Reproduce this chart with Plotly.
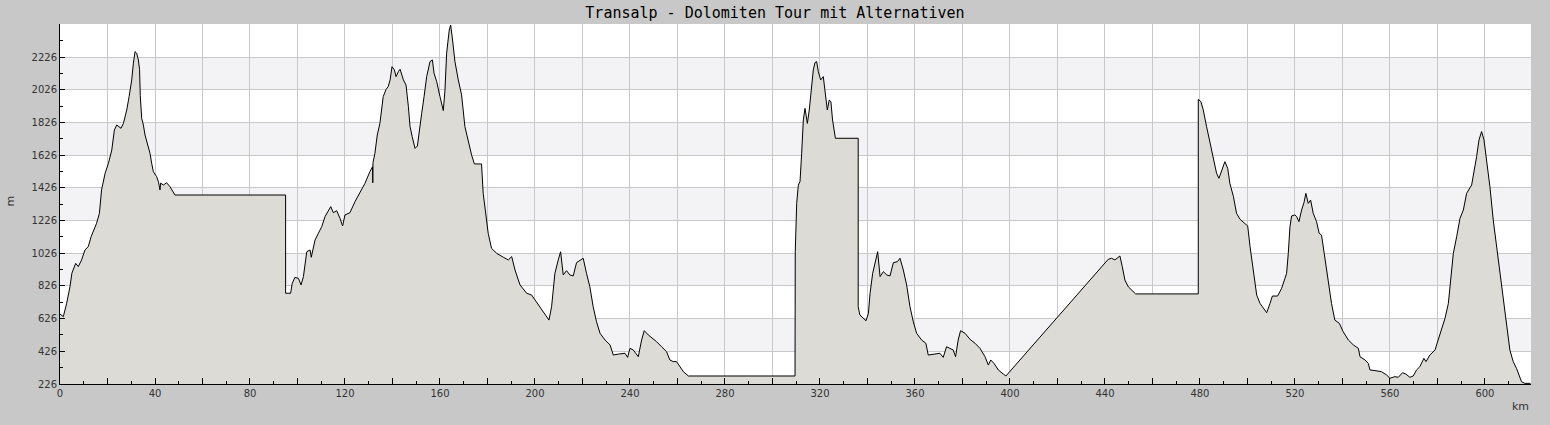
import plotly.graph_objects as go

# elevation profile
km = [0, 1.4, 2.8, 4.2, 5, 5.6, 6.6, 7.7, 9.1, 10.5, 11.9, 13.1, 14.5, 15.4, 16.6, 17.5, 19, 20.4,
      21.8, 22.9, 23.9, 24.6, 25.7, 26.7, 27.4, 28.1, 29.1, 30.2, 30.9, 31.6, 32.3, 33, 33.5, 33.8,
      34.4, 35.1, 35.8, 36.9, 37.9, 38.6, 39.3, 40.7, 41.5, 42.1, 42.4, 43.5, 44.9, 46.3, 48.4,
      95.0, 95.0, 97.1, 97.8, 98.9, 100.4, 101.5, 102.5, 103.9, 105.3, 105.8, 107.4, 108.8, 110.2,
      111.6, 113, 114, 115.1, 116.5, 117.9, 119, 120, 122.1, 124.2, 126.3, 128.4, 130.5, 131.6,
      131.7, 131.8, 132.6, 133.6, 134.7, 136.1, 137.3, 138.2, 139, 139.8, 140.8, 141.5, 142.5,
      143.2, 144.6, 145.7, 146.7, 147.4, 148.3, 149.5, 150.5, 151.3, 152.3, 153.3, 154.4, 155.8,
      156.8, 157.5, 158.6, 160, 161.4, 162.1, 162.8, 163.9, 164.5, 165.3, 166.3, 167.7, 169.1,
      170.5, 171.9, 173.3, 174.5, 177.5, 178.2, 179.4, 180.3, 181.7, 183.9, 186.7, 188.8, 190.2,
      191.6, 193.7, 196.5, 198.6, 200, 202.1, 204.2, 205.9, 207, 208.4, 209.8, 210.8, 211.9, 213.3,
      214.7, 216.1, 217.5, 218.9, 220.3, 221.7, 223.1, 224.5, 225.9, 227.4, 229.5, 231.6, 233,
      235.1, 237.9, 239, 240, 241.4, 242.4, 243.5, 244.9, 246, 247.7, 249.1, 251.2, 253.3, 255.4,
      256.8, 258.2, 259.6, 261, 262.5, 264.6, 309.5, 309.6, 310.2, 310.9, 311.6, 312.3, 313, 313.7,
      314.7, 315.5, 316.5, 317.2, 317.9, 318.6, 319.3, 320.3, 321.4, 322.1, 323.1, 323.9, 324.6,
      325.3, 326.3, 326.5, 336.1, 336.1, 336.8, 338.2, 339.4, 340.4, 341.1, 342.2, 343.2, 344.3,
      345.3, 346.7, 348.1, 349.5, 350.9, 352.6, 353.7, 355.1, 356.5, 357.9, 359.3, 360.7, 362.8,
      364.6, 365.6, 367.7, 370.5, 371.9, 373.3, 374.7, 376.1, 377.1, 378.2, 379.2, 381.1, 383.2,
      385.3, 387.4, 389.5, 390.9, 391.9, 393.3, 395.1, 397.2, 398.3, 441.4, 442.8, 444.2, 445.3,
      446.3, 447.3, 448.4, 449.8, 451.2, 452.9, 479.3, 479.3, 480.4, 481.4, 482.8, 484.2, 485.6,
      487, 488, 489.1, 490.5, 491.7, 492.6, 494.1, 495.4, 496.9, 498.7, 500.1, 501.1, 502.5, 503.9,
      505.3, 507.1, 508.1, 509.5, 510.5, 512.7, 514.4, 515.8, 516.5, 517.2, 517.9, 518.6, 520,
      520.7, 521.7, 522.8, 523.8, 524.6, 525.6, 526.6, 527.7, 529.1, 530.2, 531.2, 532.6, 534,
      535.4, 536.8, 538.7, 540.3, 542.5, 544.6, 546.7, 547.4, 549.5, 550.9, 551.6, 553.7, 556.5,
      558.6, 560, 562.1, 563.5, 565.3, 566.7, 568.4, 569.8, 571.2, 572.6, 574.3, 575.2, 576.8, 579,
      580.3, 581.7, 583.2, 584.6, 585.5, 586.7, 588.1, 589.5, 590.9, 592.3, 594.4, 595.4, 596.5,
      597.5, 598.6, 599.6, 600.7, 602.1, 603.5, 604.9, 606.3, 607.4, 608.8, 610.5, 611.9, 613.3,
      614.5, 615.4, 616.8, 619.2]

elev_m = [654, 638, 719, 821, 903, 923, 964, 944, 985, 1046, 1066, 1127, 1178, 1209, 1270, 1413, 1515, 1576,
          1657, 1780, 1810, 1800, 1790, 1820, 1861, 1902, 1984, 2086, 2188, 2259, 2249, 2208, 2150, 1990,
          1851, 1810, 1749, 1688, 1637, 1576, 1525, 1494, 1460, 1413, 1455, 1443, 1457, 1433, 1382,
          1382, 781, 781, 842, 878, 872, 832, 883, 1035, 1046, 1001, 1107, 1148, 1188,
          1250, 1290, 1311, 1274, 1286, 1239, 1193, 1260, 1274, 1341, 1402, 1453, 1525, 1555,
          1457, 1580, 1637, 1749, 1820, 1984, 2028, 2045, 2086, 2167, 2147, 2106, 2137,
          2151, 2086, 2055, 1923, 1800, 1739, 1667, 1682, 1780, 1882, 1984, 2106, 2198,
          2208, 2127, 2076, 1984, 1898, 2024, 2249, 2391, 2422, 2330, 2198, 2086, 1994,
          1800, 1708, 1627, 1572, 1572, 1392, 1229, 1148, 1056, 1025, 1001, 985, 1005,
          923, 832, 781, 770, 740, 699, 648, 617, 699, 903, 985, 1035, 893, 919,
          893, 887, 968, 980, 995, 903, 821, 699, 607, 536, 495, 465, 403,
          409, 414, 389, 444, 434, 414, 393, 495, 552, 526, 511, 485, 454, 424,
          373, 363, 363, 332, 301, 275, 275, 1035, 1331, 1443, 1464, 1637, 1841, 1912,
          1820, 1902, 2045, 2147, 2192, 2198, 2137, 2086, 2106, 2035, 1902, 1963, 1953,
          1841, 1739, 1729, 1729, 699, 648, 628, 613, 658, 781, 903, 964, 1035,
          883, 913, 893, 887, 968, 974, 995, 923, 832, 699, 607, 536, 495,
          475, 403, 409, 414, 389, 454, 444, 434, 393, 495, 552, 536, 499,
          475, 444, 393, 342, 373, 352, 312, 287, 275, 989, 995, 985, 995,
          1009, 944, 862, 821, 801, 777, 777, 1967, 1953, 1902, 1800, 1698, 1606,
          1515, 1484, 1525, 1586, 1545, 1453, 1372, 1270, 1233, 1209, 1193, 1066, 903, 770,
          719, 679, 662, 719, 764, 764, 811, 872, 903, 1025, 1188, 1254, 1260,
          1250, 1219, 1290, 1335, 1392, 1331, 1351, 1270, 1219, 1148, 1137, 1005, 862,
          719, 617, 597, 546, 495, 465, 444, 393, 373, 352, 312, 308, 301,
          281, 261, 271, 267, 295, 287, 267, 275, 312, 332, 383, 363, 403, 434,
          495, 566, 628, 719, 842, 1025, 1127, 1239, 1290, 1392, 1443, 1515, 1617,
          1719, 1770, 1719, 1596, 1433, 1229, 1066, 903, 760, 597, 434, 363, 322,
          275, 240, 230, 230]

y_ticks = [226, 426, 626, 826, 1026, 1226, 1426, 1626, 1826, 2026, 2226]
x_grid = list(range(0, 620, 20))
x_labels = [str(v) if v % 40 == 0 else "" for v in x_grid]
bands = [(426, 626), (826, 1026), (1226, 1426), (1626, 1826), (2026, 2226)]

fig = go.Figure()
fig.add_trace(go.Scatter(x=km, y=elev_m, mode="lines", fill="tozeroy",
                         fillcolor="#dcdbd6", line=dict(color="black", width=1),
                         hoverinfo="x+y", showlegend=False))

for lo, hi in bands:
    fig.add_shape(type="rect", xref="paper", yref="y", x0=0, x1=1, y0=lo, y1=hi,
                  fillcolor="#f3f2f5", line_width=0, layer="below")

fig.update_layout(
    width=1550, height=425,
    paper_bgcolor="#c8c8c8", plot_bgcolor="white",
    margin=dict(l=60, r=19, t=24, b=41),
    font=dict(family="DejaVu Sans", size=10, color="#333333"),
    title=dict(text="Transalp - Dolomiten Tour mit Alternativen", x=0.5, xanchor="center",
               y=1, yref="container", yanchor="top", pad=dict(t=7),
               font=dict(family="DejaVu Sans Mono", size=15, color="black")),
)
fig.update_xaxes(range=[0, 619.4], tickvals=x_grid, ticktext=x_labels,
                 ticks="inside", ticklen=6, tickcolor="black", showline=True,
                 linecolor="black", linewidth=1, showgrid=True, gridcolor="#c8c8c8",
                 zeroline=False,
                 minor=dict(dtick=10, tick0=0, ticks="inside", ticklen=3, tickcolor="black",
                            showgrid=False))
fig.update_yaxes(range=[226, 2428], tickvals=y_ticks, ticks="inside", ticklen=5,
                 tickcolor="black", showline=True, linecolor="black", linewidth=1,
                 showgrid=True, gridcolor="#c8c8c8", zeroline=False,
                 minor=dict(dtick=100, tick0=226, ticks="inside", ticklen=3,
                            tickcolor="black", showgrid=False))

fig.add_annotation(text="m", x=-0.034, y=0.51, xref="paper", yref="paper",
                   xanchor="center", yanchor="middle", showarrow=False,
                   textangle=-90, font=dict(size=11, color="#333333"))
fig.add_annotation(text="km", xref="paper", yref="paper", x=1, y=0, yshift=-14,
                   xanchor="right", yanchor="top", showarrow=False,
                   font=dict(size=11, color="#333333"))

fig.write_html("out.html", config={"displayModeBar": False},
               post_script="document.body.style.margin='0px';")
